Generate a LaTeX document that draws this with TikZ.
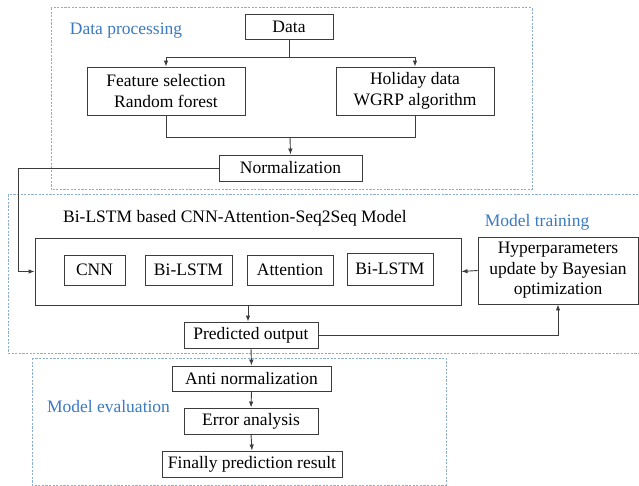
\documentclass[tikz,border=0pt]{standalone}
\usepackage{fontspec}
\setmainfont{Liberation Serif}
\usetikzlibrary{arrows.meta}
\definecolor{frameblue}{RGB}{140,172,208}
\definecolor{labelblue}{RGB}{58,122,194}
\definecolor{linegray}{RGB}{60,60,60}
\tikzset{
  box/.style={draw=linegray, line width=0.9pt, align=center, inner sep=0pt,
    font=\fontsize{17.5}{20.5}\selectfont},
  group/.style={draw=frameblue, line width=1pt, dash pattern=on 2.2pt off 1.4pt},
  grouplabel/.style={text=labelblue, font=\fontsize{17.5}{20.5}\selectfont},
  conn/.style={draw=linegray, line width=0.9pt},
  arr/.style={conn, -{Latex[length=6pt,width=4.5pt]}}
}
\begin{document}
\begin{tikzpicture}[x=1pt,y=-1pt]
\useasboundingbox (0,0) rectangle (639,486);
\fill[white] (0,0) rectangle (639,486);

% stage frames
\draw[group] (51,8) rectangle (532,190);
\draw[group] (660,195) -- (8,195) -- (8,353) -- (660,353);
\draw[group] (32,358) rectangle (446,485);

\node[grouplabel] (lbldp) at (126,31) {Data processing};
\node[grouplabel] (lblmt) at (537,222) {Model training};
\node[grouplabel] (lblme) at (108.5,407) {Model evaluation};

% data processing
\node[box, minimum width=88pt, minimum height=25pt] (data) at (289,26.5) {Data};
\node[box, minimum width=158pt, minimum height=48pt] (feat) at (166,91) {Feature selection\\Random forest};
\node[box, minimum width=158pt, minimum height=48pt] (holi) at (415,91) {Holiday data\\WGRP algorithm};
\node[box, minimum width=143pt, minimum height=26pt] (norm) at (290.5,168) {Normalization};

% model
\node[font=\fontsize{17.5}{20.5}\selectfont] (title) at (235,218) {Bi-LSTM based CNN-Attention-Seq2Seq Model};
\node[box, minimum width=426pt, minimum height=67pt] (model) at (248,271.5) {};
\node[box, minimum width=61pt, minimum height=30pt] (cnn) at (94.5,270) {CNN};
\node[box, minimum width=87pt, minimum height=30pt] (bil1) at (188.5,270) {Bi-LSTM};
\node[box, minimum width=86pt, minimum height=30pt] (att) at (290,270) {Attention};
\node[box, minimum width=86pt, minimum height=32pt] (bil2) at (390,269) {Bi-LSTM};
\node[box, minimum width=160pt, minimum height=67pt] (hyper) at (558,270.5) {Hyperparameters\\update by Bayesian\\optimization};
\node[box, minimum width=134pt, minimum height=26pt] (pred) at (251,335) {Predicted output};

% evaluation
\node[box, minimum width=159pt, minimum height=25pt] (anti) at (251.5,378.5) {Anti normalization};
\node[box, minimum width=134pt, minimum height=26pt] (err) at (251,421) {Error analysis};
\node[box, minimum width=180pt, minimum height=26pt] (fin) at (252,464) {Finally prediction result};

% connectors
\coordinate (split) at (289,57);
\coordinate (merge) at (290,137);
\coordinate (bend) at (18,168);
\draw[conn] (data.south) -- (split);
\draw[arr] (split) -| (feat.north);
\draw[arr] (split) -| (holi.north);
\draw[conn] (feat.south) |- (merge);
\draw[conn] (holi.south) |- (merge);
\draw[arr] (merge) -- (norm.north);
\draw[arr] (norm.west) -- (bend) |- (model.west);
\draw[arr] (hyper.west) -- (model.east);
\draw[arr] (model.south) -- (model.south |- pred.north);
\draw[arr] (pred.east) -| (hyper.south);
\draw[arr] (pred.south) -- (anti.north);
\draw[arr] (anti.south) -- (err.north);
\draw[arr] (err.south) -- (fin.north);
\end{tikzpicture}
\end{document}
